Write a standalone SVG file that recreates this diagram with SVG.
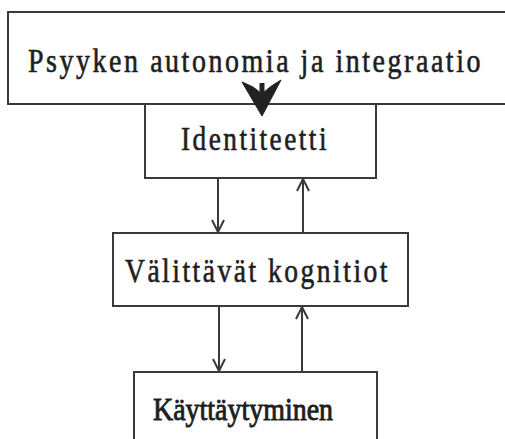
<svg xmlns="http://www.w3.org/2000/svg" width="505" height="439" viewBox="0 0 505 439">
<defs>
<style>
.box{fill:#fff;stroke:#3a3a3a;stroke-width:2}
.lbl{font-family:"Liberation Serif","Times New Roman",serif;fill:#1e1e1e;stroke:#1e1e1e;stroke-width:0.6;letter-spacing:3px}
.conn{stroke:#3a3a3a;stroke-width:2;fill:none}
.head{stroke:#3a3a3a;stroke-width:2;fill:none}
</style>
</defs>
<rect width="505" height="439" fill="#fff"/>
<g id="node-psyyke">
<rect class="box" x="8" y="12" width="510" height="92"/>
<text class="lbl" x="28" y="72" font-size="33" textLength="455" lengthAdjust="spacingAndGlyphs">Psyyken autonomia ja integraatio</text>
</g>
<g id="node-identiteetti">
<rect class="box" x="145" y="104" width="231" height="74"/>
<text class="lbl" x="181" y="150" font-size="33" textLength="148" lengthAdjust="spacingAndGlyphs">Identiteetti</text>
</g>
<g id="node-valittavat">
<rect class="box" x="113" y="233" width="295" height="73"/>
<text class="lbl" x="125" y="282" font-size="33" textLength="265" lengthAdjust="spacingAndGlyphs">Välittävät kognitiot</text>
</g>
<g id="node-kayttaytyminen">
<rect class="box" x="134" y="372" width="243" height="80"/>
<text class="lbl" x="153" y="420" font-size="32" style="letter-spacing:0;stroke-width:0.9" textLength="180" lengthAdjust="spacingAndGlyphs">Käyttäytyminen</text>
</g>
<g id="connectors">
<path d="M242,82 Q254,86 262,94 Q270,86 281,80 L262,116 Z" fill="#222" stroke="#222" stroke-width="1" stroke-linejoin="round"/>
<path d="M262,83 L262,96" stroke="#222" stroke-width="5"/>
<line class="conn" x1="218" y1="178" x2="218" y2="232"/>
<polyline class="head" points="212,220 218,232 224,220"/>
<line class="conn" x1="303" y1="233" x2="303" y2="179"/>
<polyline class="head" points="297,191 303,179 309,191"/>
<line class="conn" x1="219" y1="306" x2="219" y2="371"/>
<polyline class="head" points="213,359 219,371 225,359"/>
<line class="conn" x1="302" y1="372" x2="302" y2="307"/>
<polyline class="head" points="296,319 302,307 308,319"/>
</g>
</svg>
